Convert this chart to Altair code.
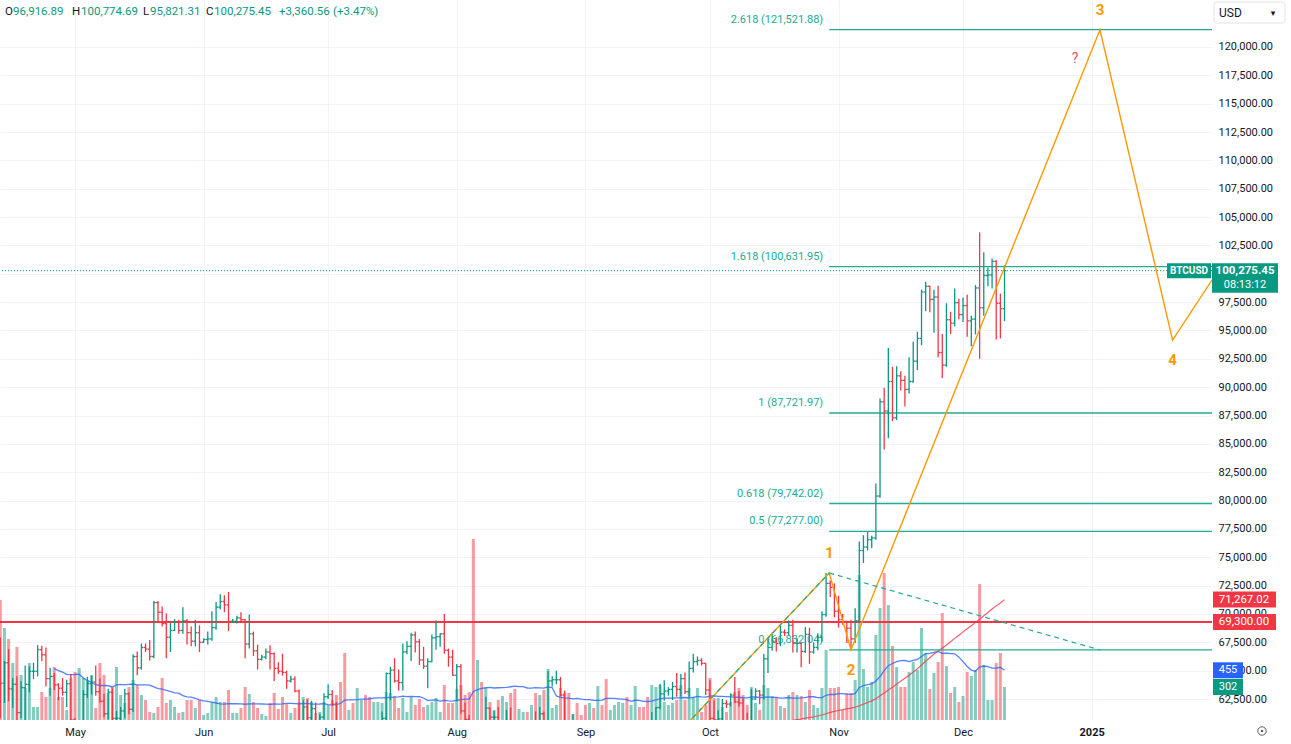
import altair as alt
import pandas as pd

# ---------------- colours / fonts ----------------
UP = "#089981"
DOWN = "#f23645"
TEAL = "#22ab94"
ORANGE = "#ff9800"
BLUE = "#2962ff"
GRID = "#f0f3fa"
TXT = "#131722"
FONT = "Roboto"
W, H = 1212, 720

# ---------------- daily BTCUSD bars, 2024-04-13 .. 2024-12-11 ----------------
START = "2024-04-13"
opens = [
    # Apr 13-30
    67150, 63900, 65700, 63400, 63800, 61300, 63500, 63800, 64950, 64950, 66850, 66400, 64300, 64500, 63750, 63450, 63100, 63850,
    # May
    60650, 58300, 59100, 62900, 63850, 64000, 63150, 62300, 61200, 63100, 60800, 60800, 61450, 62950, 61600, 66250, 65250, 67050,
    66900, 66250, 71000, 70150, 69150, 67950, 68550, 69300, 68550, 69400, 68350, 67600, 68350,
    # Jun
    67500, 67750, 67800, 68800, 70600, 71100, 70800, 69350, 69350, 69650, 69500, 67350, 68250, 66750, 66000, 66200, 66650, 66500,
    65200, 64950, 64850, 64100, 64250, 63200, 60300, 61800, 60850, 61650, 60300, 60900,
    # Jul
    62700, 62900, 62050, 60200, 57050, 56650, 58250, 55850, 56700, 57950, 57700, 57350, 57900, 59200, 60800, 64750, 65050, 64100,
    63950, 66650, 67150, 68150, 67550, 65950, 65400, 65800, 67900, 68000, 68250, 66800, 66200,
    # Aug
    64600, 65350, 61450, 60700, 58100, 54000, 56050, 55100, 61700, 60900, 60900, 58700, 59350, 60600, 58750, 57550, 58900, 59500,
    58450, 59500, 59050, 61200, 60400, 64100, 64200, 64200, 62850, 59500, 59050, 59400, 59100,
    # Sep
    58950, 57300, 59150, 57500, 57950, 56150, 53950, 54150, 54850, 57050, 57650, 57350, 58100, 60550, 60000, 59150, 58200, 60300,
    61750, 62950, 63200, 63350, 63600, 63350, 64300, 63150, 65200, 65800, 65900, 65650,
    # Oct
    63300, 60800, 60650, 60750, 62100, 62050, 62850, 62250, 62150, 60600, 60300, 62500, 63200, 62850, 66050, 67050, 67600, 67400,
    68400, 68350, 69000, 67400, 67400, 66700, 68200, 66650, 67050, 67950, 69950, 72700, 72350,
    # Nov
    70250, 69500, 69350, 68750, 67800, 69400, 75600, 75900, 76550, 76700, 80400, 88700, 87900, 90500, 87300, 91000, 90600, 89800,
    90500, 92300, 94300, 98400, 98900, 97750, 97950, 93050, 91950, 95950, 95650, 97450,
    # Dec 1-11
    96400, 97200, 95850, 96000, 98750, 97000, 99850, 99900, 101100, 97400, 96916.89,
]
highs = [
    67930, 65850, 66900, 64350, 64500, 64100, 65450, 65400, 65700, 67250, 67200, 67050, 65250, 64800, 63900, 64350, 64200, 64700,
    60800, 59600, 63300, 64450, 64550, 65450, 64300, 62950, 63400, 63450, 61450, 61800, 63400, 63100, 66450, 66700, 67400, 67400,
    67700, 71150, 71150, 70650, 70050, 69200, 69550, 69500, 70600, 69550, 68900, 69500, 69000,
    67850, 68450, 70250, 71050, 71750, 71650, 71950, 69550, 69850, 70150, 69550, 69950, 68450, 67300, 66400, 66950, 67250, 66600,
    65750, 66500, 65000, 64550, 64500, 63350, 62400, 62450, 62350, 62200, 61200, 63000,
    63800, 63300, 62250, 60500, 57500, 58500, 58450, 58250, 58300, 59450, 59450, 58550, 59800, 61400, 64850, 65350, 66100, 65100,
    67400, 67600, 68350, 68450, 67800, 67100, 66100, 68200, 69450, 68300, 70000, 66950, 66850,
    65600, 65600, 62200, 61100, 58300, 57050, 57700, 62700, 61750, 61450, 61800, 60650, 61550, 61750, 59800, 59800, 59650, 60250,
    59600, 61400, 61800, 61400, 64950, 64500, 65000, 64450, 63250, 60250, 61150, 59900, 59450,
    59050, 59350, 59800, 58500, 58300, 56950, 54800, 55300, 58100, 58050, 57950, 58600, 60650, 60650, 60400, 59200, 61350, 61800,
    63850, 64150, 63550, 64000, 64800, 64700, 64850, 65800, 66500, 66250, 66100, 65650,
    64150, 62400, 61500, 62500, 62400, 63000, 64450, 63200, 62550, 61300, 63400, 63450, 63300, 66500, 67900, 68400, 67950, 68950,
    68650, 69450, 69500, 67850, 67450, 68850, 68800, 67500, 68300, 70250, 73620, 72950, 72700,
    71600, 70000, 69400, 69500, 70500, 76400, 76950, 77250, 76900, 81500, 89000, 89950, 93450, 91800, 91850, 91400, 91000, 92650,
    94000, 94900, 98600, 99300, 98950, 98600, 98950, 94700, 97400, 96650, 98700, 97800,
    97900, 98150, 96300, 99000, 103650, 101900, 100550, 101350, 101200, 98250, 100774.69,
]
lows = [
    60800, 62150, 62300, 61700, 59750, 60800, 59600, 63100, 64250, 64500, 65850, 63600, 62800, 63300, 62400, 62800, 61800, 59100,
    56550, 56950, 58800, 62600, 62900, 62800, 62200, 60900, 60700, 60250, 60500, 60650, 60800, 61150, 61350, 64600, 65100, 66650,
    65900, 66100, 69200, 68900, 66100, 66650, 68500, 68250, 68250, 67300, 67150, 67150, 66650,
    67450, 67300, 67650, 68600, 70400, 70150, 68500, 69200, 69150, 69200, 66100, 66950, 66300, 65100, 65900, 66000, 65100, 64100,
    64700, 64550, 63400, 63950, 63100, 58500, 60250, 60650, 60600, 60000, 60300, 60700,
    62500, 61900, 59450, 56800, 53500, 56050, 55750, 54300, 56300, 57200, 57100, 56550, 57750, 59200, 60650, 62400, 63950, 63250,
    63250, 66450, 65850, 66600, 65500, 65150, 63450, 65750, 66850, 67100, 66500, 65350, 64550,
    62300, 61200, 59850, 57200, 49100, 53950, 54600, 54700, 59600, 60300, 58400, 57650, 58450, 58350, 56150, 57100, 58800, 58400,
    57850, 58600, 58800, 59800, 60350, 63600, 63800, 62750, 58100, 57850, 58800, 57750, 58750,
    57200, 57150, 57400, 55600, 55650, 52730, 53800, 53650, 54600, 56400, 55550, 57350, 57650, 59450, 58700, 57500, 57600, 59200,
    61600, 62350, 62800, 62400, 62700, 62700, 62950, 62700, 64850, 65450, 65450, 62850,
    60200, 60050, 59850, 60500, 61700, 61850, 62150, 61850, 60300, 58900, 60100, 62450, 62050, 62450, 64800, 66750, 66700, 67150,
    68050, 68150, 66600, 66600, 65300, 66550, 65600, 66500, 66800, 67550, 69750, 71500, 69700,
    68800, 69050, 67450, 66832, 67450, 69400, 74500, 75600, 75800, 76550, 80250, 84500, 85500, 87000, 87100, 89700, 88300, 89450,
    90400, 91500, 93700, 96700, 96600, 94800, 92650, 90800, 91800, 94700, 95350, 96000,
    95750, 94450, 93600, 94650, 92500, 96300, 98900, 98700, 94200, 94300, 95821.31,
]
closes = [
    63900, 65700, 63400, 63800, 61300, 63500, 63800, 64950, 64950, 66850, 66400, 64300, 64500, 63750, 63450, 63100, 63850, 60650,
    58300, 59100, 62900, 63850, 64000, 63150, 62300, 61200, 63100, 60800, 60800, 61450, 62950, 61600, 66250, 65250, 67050, 66900,
    66250, 71000, 70150, 69150, 67950, 68550, 69300, 68550, 69400, 68350, 67600, 68350, 67500,
    67750, 67800, 68800, 70600, 71100, 70800, 69350, 69350, 69650, 69500, 67350, 68250, 66750, 66000, 66200, 66650, 66500, 65200,
    64950, 64850, 64100, 64250, 63200, 60300, 61800, 60850, 61650, 60300, 60900, 62700,
    62900, 62050, 60200, 57050, 56650, 58250, 55850, 56700, 57950, 57700, 57350, 57900, 59200, 60800, 64750, 65050, 64100, 63950,
    66650, 67150, 68150, 67550, 65950, 65400, 65800, 67900, 68000, 68250, 66800, 66200, 64600,
    65350, 61450, 60700, 58100, 54000, 56050, 55100, 61700, 60900, 60900, 58700, 59350, 60600, 58750, 57550, 58900, 59500, 58450,
    59500, 59050, 61200, 60400, 64100, 64200, 64200, 62850, 59500, 59050, 59400, 59100, 58950,
    57300, 59150, 57500, 57950, 56150, 53950, 54150, 54850, 57050, 57650, 57350, 58100, 60550, 60000, 59150, 58200, 60300, 61750,
    62950, 63200, 63350, 63600, 63350, 64300, 63150, 65200, 65800, 65900, 65650, 63300,
    60800, 60650, 60750, 62100, 62050, 62850, 62250, 62150, 60600, 60300, 62500, 63200, 62850, 66050, 67050, 67600, 67400, 68400,
    68350, 69000, 67400, 67400, 66700, 68200, 66650, 67050, 67950, 69950, 72700, 72350, 70250,
    69500, 69350, 68750, 67800, 69400, 75600, 75900, 76550, 76700, 80400, 88700, 87900, 90500, 87300, 91000, 90600, 89800, 90500,
    92300, 94300, 98400, 98900, 97750, 97950, 93050, 91950, 95950, 95650, 97450, 96400,
    97200, 95850, 96000, 98750, 97000, 99850, 99900, 101100, 97400, 96916.89, 100275.45,
]
volumes = [
    1098, 842, 741, 522, 668, 412, 293, 522, 119, 119, 256, 210, 293, 485, 210, 210, 92, 384,
    439, 476, 384, 366, 412, 110, 522, 412, 247, 302, 485, 229, 156, 302, 366, 320, 229, 183, 73, 64, 119, 384, 156, 183, 119, 64,
    73, 183, 183, 110, 183,
    46, 64, 165, 210, 165, 165, 275, 64, 64, 110, 302, 238, 165, 110, 55, 37, 156, 247, 101, 210, 146, 64, 110, 165, 210, 201, 165,
    64, 73, 165,
    137, 183, 229, 348, 613, 92, 156, 293, 183, 229, 210, 165, 165, 156, 256, 247, 220, 110, 201, 73, 210, 137, 192, 119, 137, 165,
    201, 73, 320, 156, 156,
    284, 320, 229, 256, 1656, 549, 348, 302, 165, 92, 183, 220, 165, 247, 284, 101, 73, 73, 137, 247, 229, 275, 467, 110, 137, 293,
    247, 247, 55, 156, 46,
    137, 156, 110, 311, 137, 375, 92, 137, 165, 156, 210, 137, 311, 119, 119, 210, 320, 302, 320, 165, 137, 156, 183, 320, 183, 293,
    210, 293, 73, 137,
    384, 201, 201, 119, 73, 165, 256, 293, 229, 137, 302, 156, 92, 320, 293, 220, 210, 128, 110, 229, 256, 229, 220, 165, 275, 137,
    110, 293, 641, 293, 293,
    302, 92, 247, 247, 366, 1327, 467, 302, 348, 778, 1025, 1345, 1052, 677, 485, 302, 302, 439, 531, 458, 842, 613, 284, 430, 531,
    979, 494, 247, 302, 165,
    220, 439, 403, 458, 1244, 503, 183, 183, 522, 613, 302,
]

# ---------------- annotations ----------------
LAST_PRICE = 100275.45
EMA_LAST = 71267.02
SUPPORT = 69300.00
VOL_MA_LAST = 455
VOL_LAST = 302

fib_ratios = [0, 0.5, 0.618, 1, 1.618, 2.618]
fib_prices = [66832.04, 77277.00, 79742.02, 87721.97, 100631.95, 121521.88]
FIB_START = "2024-10-29T18:00:00Z"
X_END = "2025-01-30T00:00:00Z"

wave_dates = ["2024-09-06T00:00:00Z", "2024-10-29T18:00:00Z", "2024-11-04T00:00:00Z",
              "2025-01-03T00:00:00Z", "2025-01-20T12:00:00Z", "2025-01-30T00:00:00Z"]
wave_prices = [52730, 73620, 66832.04, 121521.88, 94150, 99450]
wave_labels = ["", "1", "2", "3", "4", ""]

# ---------------- tables ----------------
n = min(len(opens), len(highs), len(lows), len(closes), len(volumes))
dts = pd.date_range(START, periods=n, freq="D")
fmt = "%Y-%m-%dT%H:%M:%SZ"
bars = pd.DataFrame({
    "date": dts.strftime(fmt),
    "dl": (dts - pd.Timedelta(hours=11)).strftime(fmt),
    "dr": (dts + pd.Timedelta(hours=11)).strftime(fmt),
    "open": opens[:n], "high": highs[:n], "low": lows[:n], "close": closes[:n], "vol": volumes[:n],
})
bars["dir"] = ["up" if c >= o else "down" for o, c in zip(bars["open"], bars["close"])]
bars["vma"] = bars["vol"].rolling(20, min_periods=14).mean()

# 200-period EMA of the close, its history anchored on the axis tag value
alpha = 2 / 201
e = 0.0
ema0 = []
for c in bars["close"]:
    e += alpha * (c - e)
    ema0.append(e)
seed = (EMA_LAST - ema0[-1]) / (1 - alpha) ** n
bars["ema"] = [v + seed * (1 - alpha) ** (i + 1) for i, v in enumerate(ema0)]

fib = pd.DataFrame({
    "d": FIB_START, "e": X_END, "p": fib_prices,
    "lbl": [f"{r:g} ({p:,.2f})" for r, p in zip(fib_ratios, fib_prices)],
})
wave = pd.DataFrame({"d": wave_dates, "p": wave_prices, "lbl": wave_labels, "i": range(len(wave_dates))})
dash = pd.DataFrame({
    "d1": [wave_dates[0], wave_dates[1]], "p1": [wave_prices[0], wave_prices[1]],
    "d2": [wave_dates[1], "2025-01-03T00:00:00Z"], "p2": [wave_prices[1], fib_prices[0]],
})
qmark = pd.DataFrame({"d": ["2024-12-28T00:00:00Z"], "p": [118940], "t": ["?"]})

# ---------------- scales / axes ----------------
xscale = alt.Scale(type="utc", padding=0, nice=False, domain=[
    alt.DateTime(year=2024, month=4, date=12, hours=22, minutes=16, utc=True),
    alt.DateTime(year=2025, month=1, date=30, utc=True)])
month_ticks = [alt.DateTime(year=2024, month=m, date=1, utc=True) for m in range(5, 13)] + \
              [alt.DateTime(year=2025, month=1, date=1, utc=True)]
xaxis = alt.Axis(
    values=month_ticks,
    labelExpr="utcFormat(datum.value, '%m') == '01' ? utcFormat(datum.value, '%Y') : utcFormat(datum.value, '%b')",
    labelFontWeight={"condition": {"test": "utcmonth(datum.value) === 0", "value": "bold"}, "value": "normal"},
    grid=True, gridColor=GRID, ticks=False, domain=False, labelColor=TXT, labelFontSize=11,
    labelFont=FONT, labelPadding=6, labelOverlap=False, labelFlush=False, title=None)
yscale = alt.Scale(domain=[60651, 124143], nice=False, zero=False, padding=0)
yaxis = alt.Axis(
    orient="right", values=list(range(62500, 120001, 2500)), format=",.2f", grid=True, gridColor=GRID,
    ticks=False, domain=False, labelColor=TXT, labelFontSize=11, labelFont=FONT, labelPadding=6,
    labelOverlap=False, labelFlush=False, title=None)
vscale = alt.Scale(domain=[0, 6590], nice=False, zero=True, padding=0)


def X(f):
    return alt.X(f, type="temporal", scale=xscale, axis=xaxis)


def Y(f):
    return alt.Y(f, type="quantitative", scale=yscale, axis=yaxis)


def V(f):
    return alt.Y(f, type="quantitative", scale=vscale, axis=None)


dircolor = alt.Color("dir:N", scale=alt.Scale(domain=["up", "down"], range=[UP, DOWN]), legend=None)
base = alt.Chart(bars)

# ---------------- volume pane ----------------
vol_bars = base.mark_bar(width=3, opacity=0.5, clip=True).encode(x=X("date"), y=V("vol"), color=dircolor)
vol_ma = base.mark_line(color=BLUE, strokeWidth=1.3, opacity=0.8, clip=True).encode(x=X("date"), y=V("vma"))
vtags = pd.DataFrame({"v": [VOL_MA_LAST, VOL_LAST], "t": [str(VOL_MA_LAST), str(VOL_LAST)], "c": [BLUE, UP]})
vtag_box = alt.Chart(vtags).mark_rect(yOffset=-8, y2Offset=8).encode(
    x=alt.value(W + 1), x2=alt.value(W + 31), y=V("v"), y2=alt.Y2("v"), fill=alt.Fill("c:N", scale=None))
vtag_txt = alt.Chart(vtags).mark_text(color="white", fontSize=11, font=FONT, align="center", baseline="middle").encode(
    x=alt.value(W + 16), y=V("v"), text="t:N")
vol_group = alt.layer(vol_bars, vol_ma, vtag_box, vtag_txt)

# ---------------- price pane ----------------
ema_line = base.mark_line(color=DOWN, strokeWidth=1.2, opacity=0.8, clip=True).encode(x=X("date"), y=Y("ema"))
one = pd.DataFrame({"p": [SUPPORT]})
support = alt.Chart(one).mark_rule(color=DOWN, strokeWidth=2).encode(y=Y("p"))
lastp = alt.Chart(pd.DataFrame({"p": [LAST_PRICE]})).mark_rule(color=UP, strokeDash=[1, 2], strokeWidth=1).encode(y=Y("p"))
fib_rules = alt.Chart(fib).mark_rule(color=TEAL, strokeWidth=1.3).encode(x=X("d"), x2=alt.X2("e"), y=Y("p"))
fib_text = alt.Chart(fib).mark_text(color=TEAL, fontSize=11, font=FONT, align="right", baseline="bottom",
                                    dx=-6, dy=-5).encode(x=X("d"), y=Y("p"), text="lbl:N")
dashed = alt.Chart(dash).mark_rule(color=TEAL, strokeDash=[5, 4], strokeWidth=1.2, clip=True).encode(
    x=X("d1"), x2=alt.X2("d2"), y=Y("p1"), y2=alt.Y2("p2"))

hl = base.mark_rule(strokeWidth=1.3, clip=True).encode(x=X("date"), y=Y("low"), y2=alt.Y2("high"), color=dircolor)
otick = base.mark_rule(strokeWidth=1.3, clip=True).encode(x=X("dl"), x2=alt.X2("date"), y=Y("open"), color=dircolor)
ctick = base.mark_rule(strokeWidth=1.3, clip=True).encode(x=X("date"), x2=alt.X2("dr"), y=Y("close"), color=dircolor)

wave_line = alt.Chart(wave).mark_line(color=ORANGE, strokeWidth=1.4, clip=True).encode(
    x=X("d"), y=Y("p"), order="i:Q")
wave_up = alt.Chart(wave).transform_filter("datum.lbl == '1' || datum.lbl == '3'").mark_text(
    color=ORANGE, fontSize=15, font=FONT, fontWeight="bold", dy=-20).encode(x=X("d"), y=Y("p"), text="lbl:N")
wave_dn = alt.Chart(wave).transform_filter("datum.lbl == '2' || datum.lbl == '4'").mark_text(
    color=ORANGE, fontSize=15, font=FONT, fontWeight="bold", dy=20).encode(x=X("d"), y=Y("p"), text="lbl:N")
q_text = alt.Chart(qmark).mark_text(color="#e5556b", fontSize=14, font=FONT).encode(x=X("d"), y=Y("p"), text="t:N")

# tags on the price axis
pt = pd.DataFrame({"p": [LAST_PRICE]})
sym_box = alt.Chart(pt).mark_rect(yOffset=-7.5, y2Offset=7.5, color=UP).encode(
    x=alt.value(W - 45), x2=alt.value(W - 1), y=Y("p"), y2=alt.Y2("p"))
sym_txt = alt.Chart(pt).mark_text(color="white", fontSize=10, font=FONT, fontWeight="bold").encode(
    x=alt.value(W - 23), y=Y("p"), text=alt.value("BTCUSD"))
price_box = alt.Chart(pt).mark_rect(yOffset=-7.5, y2Offset=22, color=UP).encode(
    x=alt.value(W), x2=alt.value(W + 66), y=Y("p"), y2=alt.Y2("p"))
price_txt = alt.Chart(pt).mark_text(color="white", fontSize=11.5, font=FONT, fontWeight="bold").encode(
    x=alt.value(W + 33), y=Y("p"), text=alt.value(f"{LAST_PRICE:,.2f}"))
timer_txt = alt.Chart(pt).mark_text(color="white", fontSize=11, font=FONT, dy=14).encode(
    x=alt.value(W + 33), y=Y("p"), text=alt.value("08:13:12"))
rtags = pd.DataFrame({"p": [EMA_LAST, SUPPORT], "t": [f"{EMA_LAST:,.2f}", f"{SUPPORT:,.2f}"]})
rtag_box = alt.Chart(rtags).mark_rect(yOffset=-8, y2Offset=8, color=DOWN).encode(
    x=alt.value(W + 1), x2=alt.value(W + 64), y=Y("p"), y2=alt.Y2("p"))
rtag_txt = alt.Chart(rtags).mark_text(color="white", fontSize=11.5, font=FONT).encode(
    x=alt.value(W + 32), y=Y("p"), text="t:N")

# header (OHLC legend) and currency selector
hdr = pd.DataFrame({"a": [0]})
header_parts = [("O", 5, TXT), ("96,916.89", 13, UP), ("H", 72, TXT), ("100,774.69", 81, UP),
                ("L", 143, TXT), ("95,821.31", 150, UP), ("C", 206, TXT), ("100,275.45", 214, UP),
                ("+3,360.56", 279, UP), ("(+3.47%)", 333, UP)]
header = [alt.Chart(hdr).mark_text(align="left", baseline="middle", fontSize=11.5, font=FONT, color=c).encode(
    x=alt.value(px), y=alt.value(12), text=alt.value(t)) for t, px, c in header_parts]
usd_box = alt.Chart(hdr).mark_rect(fill="white", stroke="#e0e3eb", strokeWidth=1, cornerRadius=3).encode(
    x=alt.value(W + 2), x2=alt.value(W + 73), y=alt.value(2), y2=alt.value(23))
usd_txt = alt.Chart(hdr).mark_text(align="left", baseline="middle", fontSize=12, font=FONT, color=TXT).encode(
    x=alt.value(W + 7), y=alt.value(13), text=alt.value("USD"))
usd_arrow = alt.Chart(hdr).mark_text(align="center", baseline="middle", fontSize=9, font="DejaVu Sans", color=TXT).encode(
    x=alt.value(W + 61), y=alt.value(13), text=alt.value("▾"))
eye_o = alt.Chart(hdr).mark_point(shape="circle", size=70, filled=False, color=TXT, strokeWidth=1).encode(
    x=alt.value(W + 50), y=alt.value(H + 11))
eye_i = alt.Chart(hdr).mark_point(shape="circle", size=6, filled=True, color=TXT).encode(
    x=alt.value(W + 50), y=alt.value(H + 11))

price_group = alt.layer(
    ema_line, support, lastp, fib_rules, fib_text, hl, otick, ctick, wave_line, dashed,
    wave_up, wave_dn, q_text, sym_box, sym_txt, price_box, price_txt, timer_txt, rtag_box, rtag_txt,
    *header, usd_box, usd_txt, usd_arrow, eye_o, eye_i,
)

chart = alt.layer(vol_group, price_group).resolve_scale(y="independent").properties(
    width=W, height=H,
    padding={"left": 0, "right": 79, "top": 0, "bottom": 24},
    autosize=alt.AutoSizeParams(type="none"),
    background="white",
).configure_view(stroke=None)

chart.save("out.html", embed_options={"renderer": "svg", "actions": False})
